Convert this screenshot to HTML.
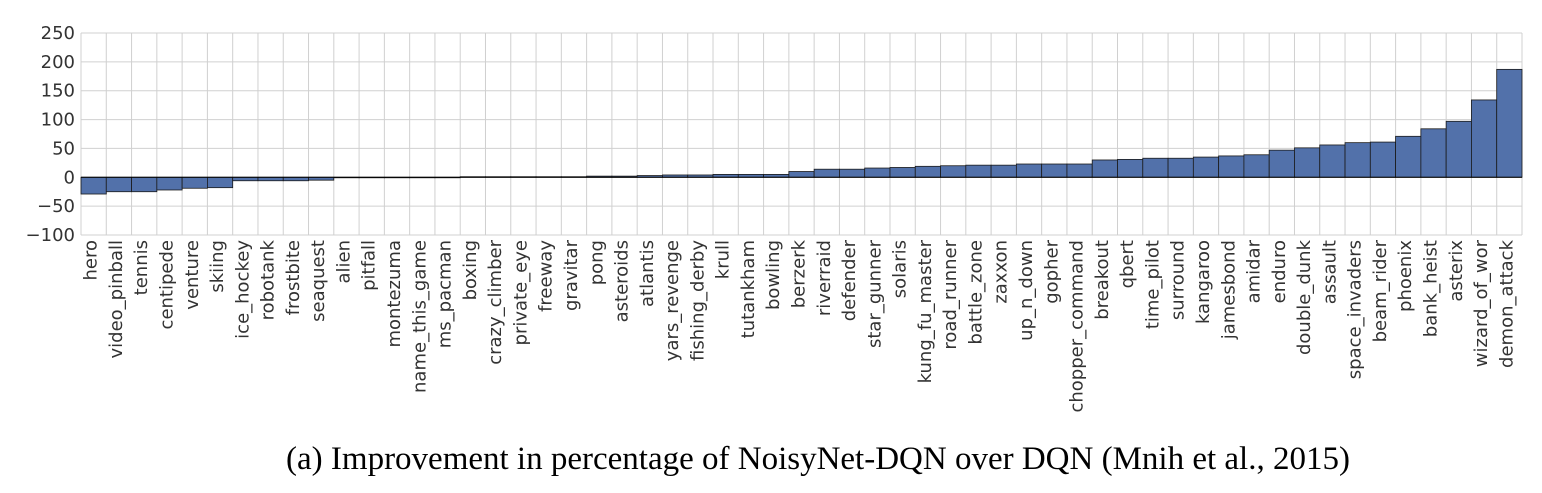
<!DOCTYPE html>
<html><head><meta charset="utf-8"><style>
body{margin:0;background:#fff;width:1542px;height:488px;overflow:hidden}
svg text{font-family:"DejaVu Sans","Liberation Sans",sans-serif}
</style></head><body>
<svg id="chart" width="1542" height="488"></svg>
<script>
const categories=["hero","video_pinball","tennis","centipede","venture","skiing","ice_hockey","robotank","frostbite","seaquest","alien","pitfall","montezuma","name_this_game","ms_pacman","boxing","crazy_climber","private_eye","freeway","gravitar","pong","asteroids","atlantis","yars_revenge","fishing_derby","krull","tutankham","bowling","berzerk","riverraid","defender","star_gunner","solaris","kung_fu_master","road_runner","battle_zone","zaxxon","up_n_down","gopher","chopper_command","breakout","qbert","time_pilot","surround","kangaroo","jamesbond","amidar","enduro","double_dunk","assault","space_invaders","beam_rider","phoenix","bank_heist","asterix","wizard_of_wor","demon_attack"];
const values=[-29,-25,-25,-22,-19,-18,-6,-6,-6,-5,0,0,0,0,0,1,1,1,1,1,2,2,3,4,4,5,5,5,10,14,14,16,17,19,20,21,21,23,23,23,30,31,33,33,35,37,39,47,51,56,60,61,71,84,97,134,187];
const yTicks=[-100,-50,0,50,100,150,200,250];
const NS="http://www.w3.org/2000/svg";
const svg=document.getElementById('chart');
const L=81,R=1522,T=33,B=235,ymin=-100,ymax=250;
const bw=(R-L)/categories.length;
const y=v=>T+(ymax-v)/(ymax-ymin)*(B-T);
const x=i=>L+i*bw;
function mk(t,a){const e=document.createElementNS(NS,t);for(const k in a)e.setAttribute(k,a[k]);svg.appendChild(e);return e;}
yTicks.forEach(t=>{
  const g=mk('line',{x1:L,x2:R,y1:y(t),y2:y(t),stroke:'#d0d0d0','stroke-width':1});
  
  
  const tx=mk('text',{x:L-6,y:y(t)+6,'text-anchor':'end','font-size':18,fill:'#333'});
  tx.textContent=t<0?'\u2212'+Math.abs(t):t;
  
  
});
for(let i=0;i<=categories.length;i++){
  const g=mk('line',{x1:x(i),x2:x(i),y1:T,y2:B,stroke:'#d0d0d0','stroke-width':1});
  
  
}
categories.forEach((c,i)=>{
  const v=values[i];
  const y0=y(0),yv=y(v);
  const r=mk('rect',{x:x(i),y:Math.min(y0,yv),width:bw,height:Math.max(Math.abs(yv-y0),0.5),fill:'#5271aa',stroke:'#1a1a1a','stroke-width':0.8});
  
  
  const cx=x(i)+bw/2+3;
  const t=mk('text',{x:cx,y:240,'text-anchor':'end','font-size':18,fill:'#333',transform:`rotate(-90 ${cx} 240)`});
  t.textContent=c;
  
  
});
const z=mk('line',{x1:L,x2:R,y1:y(0),y2:y(0),stroke:'#000','stroke-width':1});


const cap=mk('text',{x:818,y:469,'text-anchor':'middle','font-size':33,fill:'#000'});
cap.style.fontFamily='"Liberation Serif",serif';
cap.textContent='(a)  Improvement in percentage of NoisyNet-DQN over DQN (Mnih et al., 2015)';


</script>
</body></html>
